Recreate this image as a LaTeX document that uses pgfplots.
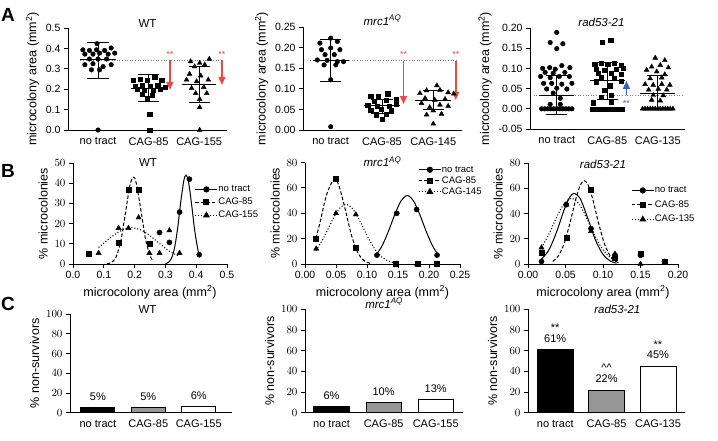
\documentclass[border=0pt]{standalone}
\usepackage{fontspec}
\setmainfont{Liberation Sans}
\usepackage{pgfplots}
\pgfplotsset{compat=1.18}
\usetikzlibrary{arrows.meta}
\definecolor{arrred}{RGB}{240,70,70}
\definecolor{arrblue}{RGB}{55,95,195}
\definecolor{bargray}{RGB}{150,150,150}
\newcommand{\lbl}{\fontsize{12.5}{14}\selectfont}
\pgfplotsset{
 prism/.style={
  scale only axis, anchor=south west, clip=false,
  axis lines=left, axis line style={-, line width=0.9pt},
  tick align=outside, major tick length=4pt,
  tick style={black, line width=0.8pt},
  ticklabel style={font=\fontsize{10.5}{12}\selectfont},
  every axis title shift=0pt,
  title style={font=\fontsize{11.5}{13}\selectfont, at={(axis description cs:0.5,1)}, anchor=base},
  enlargelimits=false,
 },
 panelA/.style={prism, xtick={0,1,2}, major x tick style=transparent,
  ylabel={\lbl microcolony area (mm\textsuperscript{2})},
  x tick label style={font=\fontsize{11}{12}\selectfont}},
 panelB/.style={prism, xlabel={\lbl microcolony area (mm\textsuperscript{2})}, ylabel={\lbl \% microcolonies},
  legend cell align=left,
  legend style={draw=none, fill=none, inner sep=0pt, font=\fontsize{9.5}{11}\selectfont, anchor=north west,
    nodes={inner sep=0.5pt, text height=7pt, text depth=2pt}},
  legend image code/.code={\draw[mark repeat=2, mark phase=2, ##1] plot coordinates {(0pt,0pt) (11pt,0pt) (22pt,0pt)};}},
 panelC/.style={prism, xtick={0,1,2}, major x tick style=transparent, ylabel={\lbl \% non-survivors},
  ymin=0, ymax=100, ytick={0,20,40,60,80,100},
  x tick label style={font=\fontsize{11}{12}\selectfont},
  ybar, bar shift=0pt},
 mc/.style={only marks, mark=*, mark size=2.3pt, black},
 ms/.style={only marks, mark=square*, mark size=2.1pt, black},
 mt/.style={only marks, mark=triangle*, mark size=2.8pt, black},
 bc/.style={only marks, mark=*, mark size=2.6pt, black, forget plot},
 bs/.style={only marks, mark=square*, mark size=2.5pt, black, forget plot},
 bt/.style={only marks, mark=triangle*, mark size=3pt, black, forget plot},
 ms1/.style={black, line width=1pt},
 sdl/.style={black, line width=0.9pt},
 cur1/.style={black, line width=1pt, smooth, forget plot},
 cur2/.style={black, line width=1pt, smooth, dash pattern=on 3.5pt off 2pt, forget plot},
 cur3/.style={black, line width=1.1pt, smooth, dash pattern=on 1pt off 2pt, forget plot},
 redarr/.style={arrred, line width=1.4pt, -{Triangle[length=8pt,width=7pt]}},
}
\begin{document}
\begin{tikzpicture}
\path[use as bounding box] (0,0) rectangle (718pt,-440pt);
\node[font=\bfseries\fontsize{19}{19}\selectfont] at (8pt,-15pt) {A};
\node[font=\bfseries\fontsize{19}{19}\selectfont] at (8pt,-171pt) {B};
\node[font=\bfseries\fontsize{19}{19}\selectfont] at (8pt,-304pt) {C};

% ---------------- A1 WT
\begin{axis}[panelA, at={(68pt,-130pt)}, width=159pt, height=102pt,
  xmin=-0.594, xmax=2.55, ymin=0, ymax=0.5,
  ytick={0,0.1,0.2,0.3,0.4,0.5}, yticklabels={0.0,0.1,0.2,0.3,0.4,0.5},
  xticklabels={no tract,CAG-85,CAG-155}, title={WT}, title style={yshift=1pt}]
\addplot[gray, line width=0.6pt, dotted] coordinates {(-0.35,0.344) (2.45,0.344)};
\addplot[mc] coordinates {(-0.02,0.423) (-0.30,0.393) (-0.17,0.390) (-0.03,0.393) (0.13,0.390) (0.26,0.402)
 (-0.26,0.372) (-0.10,0.372) (0.03,0.377) (0.20,0.372) (0.33,0.377) (-0.17,0.348) (0,0.348) (0.17,0.348)
 (-0.26,0.320) (-0.10,0.325) (0.10,0.311) (0.26,0.320) (-0.13,0.295) (0.03,0.295) (0,0)};
\addplot[ms] coordinates {(0.70,0.246) (0.83,0.249) (0.97,0.246) (1.12,0.259) (1.26,0.246)
 (0.74,0.216) (0.87,0.221) (1.03,0.216) (1.18,0.221) (1.33,0.210) (0.77,0.200) (0.91,0.197) (1.09,0.197)
 (1.23,0.200) (0.87,0.177) (1.07,0.172) (0.97,0.156) (1.02,0.079) (1.02,0)};
\addplot[mt] coordinates {(1.83,0.336) (2.01,0.328) (2.20,0.348) (1.91,0.311) (2.11,0.320) (1.81,0.275)
 (2.03,0.266) (1.75,0.246) (1.95,0.238) (2.18,0.246) (1.85,0.205) (2.09,0.210) (1.93,0.180) (2.15,0.180)
 (2.01,0.151) (2.01,0.111) (2.01,0)};
\addplot[ms1] coordinates {(-0.35,0.344) (0.35,0.344)};
\addplot[sdl] coordinates {(0,0.255) (0,0.43)};
\addplot[sdl] coordinates {(-0.21,0.43) (0.21,0.43)};
\addplot[sdl] coordinates {(-0.21,0.255) (0.21,0.255)};
\addplot[ms1] coordinates {(0.65,0.205) (1.35,0.205)};
\addplot[sdl] coordinates {(1,0.14) (1,0.27)};
\addplot[sdl] coordinates {(0.79,0.27) (1.21,0.27)};
\addplot[sdl] coordinates {(0.79,0.14) (1.21,0.14)};
\addplot[ms1] coordinates {(1.67,0.222) (2.33,0.222)};
\addplot[sdl] coordinates {(2,0.133) (2,0.311)};
\addplot[sdl] coordinates {(1.79,0.311) (2.21,0.311)};
\addplot[sdl] coordinates {(1.79,0.133) (2.21,0.133)};
\addplot[redarr] coordinates {(1.42,0.344) (1.42,0.197)};
\addplot[redarr] coordinates {(2.45,0.344) (2.45,0.221)};
\node[arrred, font=\fontsize{9}{9}\selectfont] at (axis cs:1.42,0.372) {**};
\node[arrred, font=\fontsize{9}{9}\selectfont] at (axis cs:2.45,0.372) {**};
\end{axis}

% ---------------- A2 mrc1AQ
\begin{axis}[panelA, at={(303pt,-130pt)}, width=159pt, height=103pt,
  xmin=-0.54, xmax=2.56, ymin=0, ymax=0.25,
  ytick={0,0.05,0.1,0.15,0.2,0.25}, yticklabels={0.00,0.05,0.10,0.15,0.20,0.25},
  xticklabels={no tract,CAG-85,CAG-145}, title={\textit{mrc1}\textsuperscript{\textit{AQ}}}, title style={yshift=2pt}]
\addplot[gray, line width=0.6pt, dotted] coordinates {(-0.40,0.168) (2.44,0.168)};
\addplot[mc] coordinates {(0,0.223) (-0.21,0.211) (0.13,0.215) (-0.18,0.195) (0,0.199) (0.18,0.195)
 (-0.11,0.183) (0.07,0.183) (-0.26,0.170) (-0.07,0.169) (0.13,0.166) (0.25,0.166) (-0.13,0.158) (0.10,0.158)
 (0,0.122) (0,0.008)};
\addplot[ms] coordinates {(1.11,0.088) (0.78,0.083) (0.93,0.081) (1.27,0.075) (0.85,0.069) (1.08,0.073)
 (0.72,0.061) (0.90,0.058) (1.14,0.058) (1.27,0.063) (0.78,0.049) (0.98,0.050) (1.18,0.047) (0.88,0.037)
 (1.08,0.039) (1.0,0.026)};
\addplot[mt] coordinates {(2.07,0.108) (1.87,0.096) (2.13,0.097) (1.74,0.089) (2.29,0.091) (2.40,0.088)
 (1.84,0.077) (2.03,0.073) (2.23,0.075) (1.77,0.065) (2.13,0.061) (1.93,0.055) (2.29,0.058) (2.0,0.047)
 (1.87,0.037) (2.16,0.039) (2.0,0.015)};
\addplot[ms1] coordinates {(-0.35,0.168) (0.35,0.168)};
\addplot[sdl] coordinates {(0,0.118) (0,0.219)};
\addplot[sdl] coordinates {(-0.21,0.219) (0.21,0.219)};
\addplot[sdl] coordinates {(-0.21,0.118) (0.21,0.118)};
\addplot[ms1] coordinates {(0.65,0.060) (1.35,0.060)};
\addplot[sdl] coordinates {(1,0.041) (1,0.075)};
\addplot[sdl] coordinates {(0.79,0.075) (1.21,0.075)};
\addplot[sdl] coordinates {(0.79,0.041) (1.21,0.041)};
\addplot[ms1] coordinates {(1.65,0.072) (2.35,0.072)};
\addplot[sdl] coordinates {(2,0.049) (2,0.095)};
\addplot[sdl] coordinates {(1.79,0.095) (2.21,0.095)};
\addplot[sdl] coordinates {(1.79,0.049) (2.21,0.049)};
\addplot[redarr] coordinates {(1.42,0.168) (1.42,0.063)};
\addplot[redarr] coordinates {(2.44,0.168) (2.44,0.073)};
\node[arrred, font=\fontsize{9}{9}\selectfont] at (axis cs:1.42,0.184) {**};
\node[arrred, font=\fontsize{9}{9}\selectfont] at (axis cs:2.44,0.184) {**};
\end{axis}

% ---------------- A3 rad53-21
\begin{axis}[panelA, at={(530pt,-129pt)}, width=155pt, height=101pt,
  xmin=-0.53, xmax=2.54, ymin=-0.05, ymax=0.2,
  ytick={-0.05,0,0.05,0.1,0.15,0.2}, yticklabels={-0.05,0.00,0.05,0.10,0.15,0.20},
  xticklabels={no tract,CAG-85,CAG-135}, title={\textit{rad53-21}}, title style={yshift=1.5pt, xshift=-6pt}]
\addplot[gray, line width=0.6pt, dotted] coordinates {(-0.46,0.034) (2.48,0.034)};
\addplot[mc] coordinates {(0,0.189) (-0.13,0.164) (0.12,0.161) (0,0.149)
 (-0.28,0.100) (-0.14,0.102) (-0.03,0.098) (0.10,0.107) (0.26,0.102)
 (-0.23,0.090) (-0.07,0.088) (0.16,0.090)
 (-0.32,0.080) (-0.13,0.077) (0.05,0.080) (0.25,0.080)
 (-0.26,0.063) (-0.10,0.063) (0.10,0.061) (0.30,0.063)
 (-0.20,0.049) (0,0.051) (0.20,0.049)
 (-0.07,0.039) (0.07,0.026) (-0.13,0.011) (0.07,0.011)
 (-0.30,0) (-0.24,0) (-0.18,0) (-0.12,0) (-0.06,0) (0,0) (0.06,0) (0.12,0) (0.18,0) (0.24,0) (0.30,0)};
\addplot[ms] coordinates {(1.07,0.170) (0.90,0.164)
 (0.75,0.110) (0.88,0.112) (1.01,0.110) (1.14,0.112) (1.28,0.108)
 (0.78,0.098) (0.95,0.096) (1.18,0.098) (1.31,0.100)
 (0.82,0.088) (1.08,0.088) (1.28,0.085)
 (0.88,0.077) (1.14,0.075) (0.78,0.067) (1.28,0.069)
 (1.05,0.057) (0.95,0.047) (1.08,0.034) (0.88,0.028) (0.72,0.015) (1.08,0.016)
 (0.70,0) (0.76,0) (0.82,0) (0.88,0) (0.94,0) (1.0,0) (1.06,0) (1.12,0) (1.18,0) (1.24,0) (1.30,0)};
\addplot[mt] coordinates {(1.95,0.126) (2.14,0.120) (1.88,0.104) (2.05,0.108) (2.21,0.102) (1.78,0.096)
 (1.98,0.092) (2.14,0.085) (1.85,0.075) (2.08,0.077) (1.75,0.061) (1.91,0.059) (2.08,0.061) (2.24,0.059)
 (1.82,0.047) (2.01,0.049) (2.18,0.047) (1.91,0.034) (2.11,0.033) (1.88,0.022) (2.05,0.020)
 (1.70,0) (1.75,0) (1.80,0) (1.85,0) (1.90,0) (1.95,0) (2.0,0) (2.05,0) (2.10,0) (2.15,0) (2.20,0) (2.25,0) (2.30,0)};
\addplot[ms1] coordinates {(-0.35,0.034) (0.35,0.034)};
\addplot[sdl] coordinates {(0,-0.013) (0,0.082)};
\addplot[sdl] coordinates {(-0.21,0.082) (0.21,0.082)};
\addplot[sdl] coordinates {(-0.21,-0.013) (0.21,-0.013)};
\addplot[ms1] coordinates {(0.65,0.070) (1.35,0.070)};
\addplot[sdl] coordinates {(1,0.022) (1,0.115)};
\addplot[sdl] coordinates {(0.79,0.115) (1.21,0.115)};
\addplot[sdl] coordinates {(0.79,0.022) (1.21,0.022)};
\addplot[ms1] coordinates {(1.65,0.038) (2.35,0.038)};
\addplot[sdl] coordinates {(2,0) (2,0.082)};
\addplot[sdl] coordinates {(1.79,0.082) (2.21,0.082)};
\addplot[arrblue, line width=1.4pt, -{Triangle[length=8pt,width=7pt]}] coordinates {(1.38,0.034) (1.38,0.069)};
\node[arrblue, font=\fontsize{9}{9}\selectfont] at (axis cs:1.38,0.014) {**};
\end{axis}

% ---------------- B1 WT
\begin{axis}[panelB, at={(73pt,-264pt)}, width=154pt, height=101pt,
  xmin=0, xmax=0.5, ymin=0, ymax=50,
  xtick={0,0.1,0.2,0.3,0.4,0.5}, xticklabels={0.0,0.1,0.2,0.3,0.4,0.5},
  ytick={0,10,20,30,40,50},
  title={WT}, title style={yshift=-3.7pt, xshift=-2pt},
  legend style={at={(0.79,0.79)}, row sep=3pt}]
\addplot[cur1] coordinates {(0.300,0.18) (0.310,0.82) (0.320,2.93) (0.330,8.21) (0.340,18.0) (0.350,30.9)
 (0.360,41.4) (0.367,44) (0.375,40.7) (0.385,29.6) (0.395,16.8) (0.405,7.5) (0.410,4.6)};
\addplot[cur2] coordinates {(0.110,0.12) (0.125,0.77) (0.140,3.5) (0.155,11.2) (0.170,25.0) (0.185,39.0)
 (0.196,43) (0.205,40.3) (0.220,27.1) (0.235,12.7) (0.250,4.2) (0.260,1.6)};
\addplot[cur3] coordinates {(0.083,8.2) (0.110,11.6) (0.140,15.1) (0.170,17.5) (0.190,18) (0.220,16.9)
 (0.250,14.0) (0.280,10.3) (0.310,6.6) (0.345,3.8)};
\addplot[bc] coordinates {(0.281,15.6) (0.313,10.7) (0.346,25.7) (0.378,42) (0.41,4.6)};
\addplot[bs] coordinates {(0.05,4.9) (0.148,10.7) (0.18,37) (0.213,37) (0.248,9.9)};
\addplot[bt] coordinates {(0.083,5.4) (0.148,17.8) (0.18,17.8) (0.213,23) (0.248,5.4) (0.281,5.4) (0.313,16.6) (0.346,5.4)};
\addlegendimage{black, line width=1pt, mark=*, mark size=2.6pt}
\addlegendentry{no tract}
\addlegendimage{black, line width=1pt, dash pattern=on 3.5pt off 2pt, mark=square*, mark size=2.5pt, mark options={solid}}
\addlegendentry{CAG-85}
\addlegendimage{black, line width=1.1pt, dash pattern=on 1pt off 2pt, mark=triangle*, mark size=3pt, mark options={solid}}
\addlegendentry{CAG-155}
\end{axis}

% ---------------- B2 mrc1AQ
\begin{axis}[panelB, at={(305pt,-264pt)}, width=155pt, height=101.5pt,
  xmin=0, xmax=0.25, ymin=0, ymax=80,
  xtick={0,0.05,0.1,0.15,0.2,0.25}, xticklabels={0.00,0.05,0.10,0.15,0.20,0.25},
  ytick={0,20,40,60,80},
  title={\textit{mrc1}\textsuperscript{\textit{AQ}}}, title style={yshift=-4pt},
  legend style={at={(0.73,0.98)}, row sep=1pt}]
\addplot[cur1] coordinates {(0.116,7.9) (0.125,15.0) (0.135,26.3) (0.145,39.2) (0.155,49.8) (0.165,54)
 (0.175,49.8) (0.185,39.2) (0.195,26.3) (0.205,15.0) (0.213,8.5)};
\addplot[cur2] coordinates {(0.0177,20.4) (0.025,34.3) (0.035,54.9) (0.047,67) (0.055,61.3) (0.065,42.8)
 (0.075,22.6) (0.085,9.1) (0.095,2.8) (0.105,0.5)};
\addplot[cur3] coordinates {(0.018,10.8) (0.030,20.6) (0.040,30.5) (0.050,39.9) (0.058,45.1) (0.066,47)
 (0.074,45.1) (0.082,39.9) (0.092,30.5) (0.102,20.6) (0.114,10.8) (0.126,4.7) (0.138,1.7) (0.150,0.5)};
\addplot[bt] coordinates {(0.018,12) (0.05,40) (0.082,39) (0.147,0) (0.181,0) (0.213,0)};
\addplot[bc] coordinates {(0.116,7) (0.148,40) (0.18,43) (0.213,7)};
\addplot[bs] coordinates {(0.018,20) (0.0495,67) (0.082,12.5) (0.147,0) (0.181,0) (0.213,0)};
\addlegendimage{black, line width=1pt, mark=*, mark size=2.6pt}
\addlegendentry{no tract}
\addlegendimage{black, line width=1pt, dash pattern=on 3.5pt off 2pt, mark=square*, mark size=2.5pt, mark options={solid}}
\addlegendentry{CAG-85}
\addlegendimage{black, line width=1.1pt, dash pattern=on 1pt off 2pt, mark=triangle*, mark size=3pt, mark options={solid}}
\addlegendentry{CAG-145}
\end{axis}

% ---------------- B3 rad53-21
\begin{axis}[panelB, at={(528pt,-264pt)}, width=150pt, height=101pt,
  xmin=0, xmax=0.2, ymin=0, ymax=80,
  xtick={0,0.05,0.1,0.15,0.2}, xticklabels={0.00,0.05,0.10,0.15,0.20},
  ytick={0,20,40,60,80},
  title={\textit{rad53-21}}, title style={yshift=-5.5pt},
  legend style={at={(0.687,0.78)}, row sep=4.5pt}]
\addplot[cur1] coordinates {(0.018,3.8) (0.028,11.3) (0.038,25.2) (0.048,42.7) (0.056,53.3) (0.062,56)
 (0.070,51.3) (0.080,35.8) (0.090,18.9) (0.100,7.6) (0.110,2.3) (0.118,0.7)};
\addplot[cur2] coordinates {(0.033,2.1) (0.040,6.0) (0.048,15.9) (0.056,32.6) (0.064,52.1) (0.070,62.8)
 (0.075,66) (0.080,62.8) (0.086,52.1) (0.094,32.6) (0.102,15.9) (0.110,6.0) (0.117,2.1) (0.122,0.9)};
\addplot[cur3] coordinates {(0.018,13.0) (0.028,23.8) (0.038,36.8) (0.048,47.7) (0.058,52) (0.068,47.7)
 (0.078,36.8) (0.088,23.8) (0.098,13.0) (0.108,5.9) (0.118,2.3)};
\addplot[bc] coordinates {(0.018,2) (0.051,47) (0.084,28) (0.116,7) (0.15,7) (0.182,2)};
\addplot[bs] coordinates {(0.018,9) (0.051,21) (0.084,59) (0.116,5) (0.15,8) (0.182,2)};
\addplot[bt] coordinates {(0.018,13) (0.051,47) (0.084,26) (0.116,8) (0.15,0) (0.182,1)};
\addlegendimage{black, line width=1pt, mark=*, mark size=2.6pt}
\addlegendentry{no tract}
\addlegendimage{black, line width=1pt, dash pattern=on 3.5pt off 2pt, mark=square*, mark size=2.5pt, mark options={solid}}
\addlegendentry{CAG-85}
\addlegendimage{black, line width=1.1pt, dash pattern=on 1pt off 2pt, mark=triangle*, mark size=3pt, mark options={solid}}
\addlegendentry{CAG-135}
\end{axis}

% ---------------- C1 WT
\begin{axis}[panelC, at={(70pt,-412.7pt)}, width=162pt, height=98.7pt,
  xmin=-0.553, xmax=2.66, bar width=34pt,
  xticklabels={no tract,CAG-85,CAG-155}, title={WT}, title style={yshift=1pt, xshift=-3.5pt}]
\addplot[fill=black, draw=black, line width=0.9pt] coordinates {(0,5)};
\addplot[fill=bargray, draw=black, line width=0.9pt] coordinates {(1,5)};
\addplot[fill=white, draw=black, line width=0.9pt] coordinates {(2,6)};
\node[anchor=base, font=\fontsize{11}{12}\selectfont, yshift=7pt] at (axis cs:0,5) {5\%};
\node[anchor=base, font=\fontsize{11}{12}\selectfont, yshift=7pt] at (axis cs:1,5) {5\%};
\node[anchor=base, font=\fontsize{11}{12}\selectfont, yshift=7pt] at (axis cs:2,6) {6\%};
\end{axis}

% ---------------- C2 mrc1AQ
\begin{axis}[panelC, at={(305pt,-412.7pt)}, width=158.3pt, height=103.4pt,
  xmin=-0.51, xmax=2.53, bar width=35.3pt,
  xticklabels={no tract,CAG-85,CAG-155}, title={\textit{mrc1}\textsuperscript{\textit{AQ}}}, title style={yshift=1pt}]
\addplot[fill=black, draw=black, line width=0.9pt] coordinates {(0,6)};
\addplot[fill=bargray, draw=black, line width=0.9pt] coordinates {(1,10)};
\addplot[fill=white, draw=black, line width=0.9pt] coordinates {(2,13)};
\node[anchor=base, font=\fontsize{11}{12}\selectfont, yshift=7pt] at (axis cs:0,6) {6\%};
\node[anchor=base, font=\fontsize{11}{12}\selectfont, yshift=7pt] at (axis cs:1,10) {10\%};
\node[anchor=base, font=\fontsize{11}{12}\selectfont, yshift=7pt] at (axis cs:2,13) {13\%};
\end{axis}

% ---------------- C3 rad53-21
\begin{axis}[panelC, at={(528pt,-412.7pt)}, width=156.7pt, height=103.4pt,
  xmin=-0.53, xmax=2.52, bar width=36pt,
  xticklabels={no tract,CAG-85,CAG-135}, title={\textit{rad53-21}}, title style={yshift=-4pt, xshift=11pt}]
\addplot[fill=black, draw=black, line width=0.9pt] coordinates {(0,61)};
\addplot[fill=bargray, draw=black, line width=0.9pt] coordinates {(1,22)};
\addplot[fill=white, draw=black, line width=0.9pt] coordinates {(2,45)};
\node[anchor=base, font=\fontsize{11}{12}\selectfont, yshift=7.5pt] at (axis cs:0,61) {61\%};
\node[anchor=base, font=\fontsize{11}{12}\selectfont, yshift=7.5pt] at (axis cs:1,22) {22\%};
\node[anchor=base, font=\fontsize{11}{12}\selectfont, yshift=7.5pt] at (axis cs:2,45) {45\%};
\node[anchor=base, font=\fontsize{11}{12}\selectfont, yshift=18pt] at (axis cs:0,61) {**};
\node[anchor=base, font=\fontsize{11}{12}\selectfont, yshift=18pt] at (axis cs:1,22) {\^{}\^{}};
\node[anchor=base, font=\fontsize{11}{12}\selectfont, yshift=18pt] at (axis cs:2,45) {**};
\end{axis}
\end{tikzpicture}
\end{document}
